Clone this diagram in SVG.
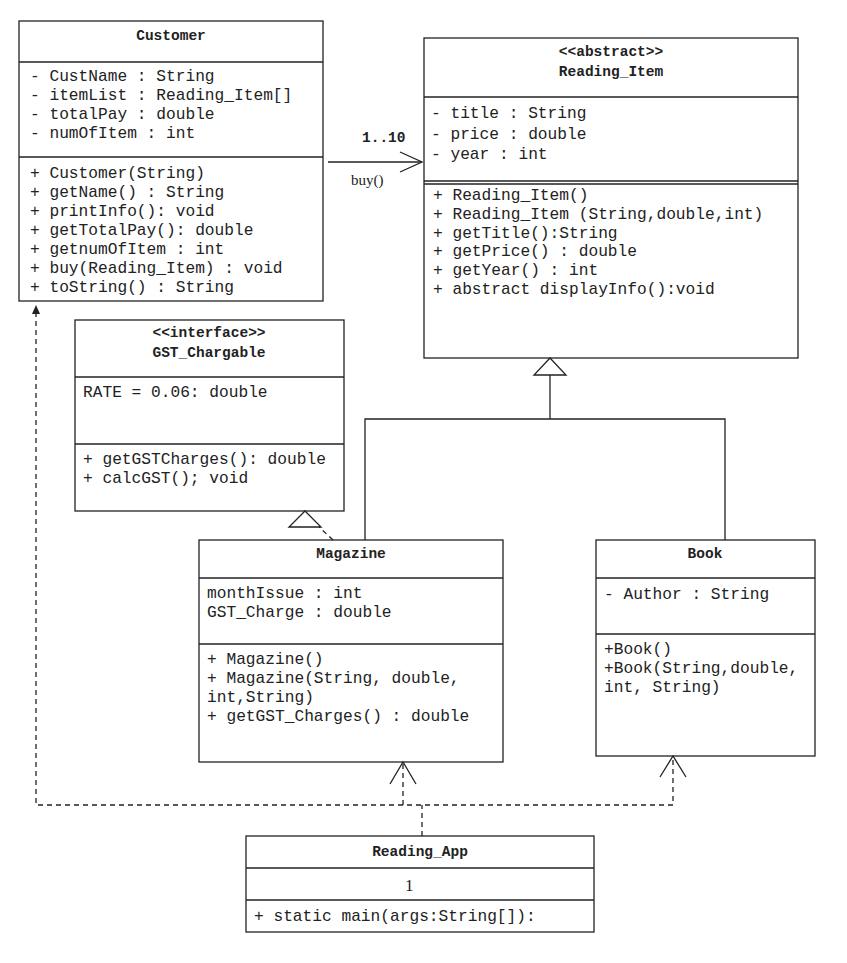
<svg xmlns="http://www.w3.org/2000/svg" width="847" height="963" viewBox="0 0 847 963">
<style>
.box{fill:#fff;stroke:#222;stroke-width:1.3}
.ln{stroke:#222;stroke-width:1.3;fill:none}
.d{stroke:#222;stroke-width:1.3;fill:none;stroke-dasharray:5,4}
text{font-family:"Liberation Mono",monospace;font-size:16.2px;fill:#222}
.b{font-weight:bold;text-anchor:middle;font-size:14.5px}
</style>
<g id="Customer">
<rect class="box" x="19" y="21" width="304" height="280"/>
<line class="ln" x1="19" y1="62" x2="323" y2="62"/>
<line class="ln" x1="19" y1="157" x2="323" y2="157"/>
<text class="b" x="171" y="40">Customer</text>
<text x="30" y="81">- CustName : String</text>
<text x="30" y="100">- itemList : Reading_Item[]</text>
<text x="30" y="119">- totalPay : double</text>
<text x="30" y="138">- numOfItem : int</text>
<text x="30" y="178">+ Customer(String)</text>
<text x="30" y="197">+ getName() : String</text>
<text x="30" y="216">+ printInfo(): void</text>
<text x="30" y="235">+ getTotalPay(): double</text>
<text x="30" y="254">+ getnumOfItem : int</text>
<text x="30" y="273">+ buy(Reading_Item) : void</text>
<text x="30" y="292">+ toString() : String</text>
</g>
<g id="Reading_Item">
<rect class="box" x="424" y="38" width="374" height="320"/>
<line class="ln" x1="424" y1="97" x2="798" y2="97"/>
<line class="ln" x1="424" y1="181" x2="798" y2="181"/>
<line class="ln" x1="424" y1="184" x2="798" y2="184"/>
<text class="b" x="611" y="56">&lt;&lt;abstract&gt;&gt;</text>
<text class="b" x="611" y="76">Reading_Item</text>
<text x="431" y="118">- title : String</text>
<text x="431" y="139">- price : double</text>
<text x="431" y="159">- year : int</text>
<text x="433" y="200">+ Reading_Item()</text>
<text x="433" y="219">+ Reading_Item (String,double,int)</text>
<text x="433" y="238">+ getTitle():String</text>
<text x="433" y="256">+ getPrice() : double</text>
<text x="433" y="275">+ getYear() : int</text>
<text x="433" y="294">+ abstract displayInfo():void</text>
</g>
<g id="GST_Chargable">
<rect class="box" x="75" y="320" width="269" height="191"/>
<line class="ln" x1="75" y1="377" x2="344" y2="377"/>
<line class="ln" x1="75" y1="444" x2="344" y2="444"/>
<text class="b" x="209" y="337">&lt;&lt;interface&gt;&gt;</text>
<text class="b" x="209" y="357">GST_Chargable</text>
<text x="83" y="397">RATE = 0.06: double</text>
<text x="83" y="464">+ getGSTCharges(): double</text>
<text x="83" y="483">+ calcGST(); void</text>
</g>
<g id="Magazine">
<rect class="box" x="199" y="540" width="304" height="222"/>
<line class="ln" x1="199" y1="578" x2="503" y2="578"/>
<line class="ln" x1="199" y1="644" x2="503" y2="644"/>
<text class="b" x="351" y="558">Magazine</text>
<text x="207" y="598">monthIssue : int</text>
<text x="207" y="617">GST_Charge : double</text>
<text x="207" y="664">+ Magazine()</text>
<text x="207" y="683">+ Magazine(String, double,</text>
<text x="207" y="702">int,String)</text>
<text x="207" y="721">+ getGST_Charges() : double</text>
</g>
<g id="Book">
<rect class="box" x="596" y="540" width="219" height="216"/>
<line class="ln" x1="596" y1="578" x2="815" y2="578"/>
<line class="ln" x1="596" y1="634" x2="815" y2="634"/>
<text class="b" x="705" y="558">Book</text>
<text x="604" y="599">- Author : String</text>
<text x="604" y="654">+Book()</text>
<text x="604" y="673">+Book(String,double,</text>
<text x="604" y="692">int, String)</text>
</g>
<g id="Reading_App">
<rect class="box" x="246" y="836" width="348" height="96"/>
<line class="ln" x1="246" y1="868" x2="594" y2="868"/>
<line class="ln" x1="246" y1="900" x2="594" y2="900"/>
<text class="b" x="420" y="856">Reading_App</text>
<text x="405" y="891" style="font-family:'Liberation Serif',serif;font-size:17px">1</text>
<text x="254" y="921">+ static main(args:String[]):</text>
</g>
<g id="connectors">
<line class="ln" x1="328" y1="162" x2="422" y2="162"/>
<polyline class="ln" points="400,152 422,162 400,172"/>
<text x="362" y="142" style="font-weight:bold;font-size:14.5px">1..10</text>
<text x="351" y="185" style="font-family:'Liberation Serif',serif;font-size:15px">buy()</text>
<polygon class="box" points="550,358 534,375 566,375"/>
<polyline class="ln" points="550,375 550,419"/>
<polyline class="ln" points="365,540 365,419 725,419 725,540"/>
<polygon class="box" points="305,511 289,527 321,527"/>
<line class="d" x1="333" y1="540" x2="319" y2="527"/>
<line class="d" x1="422" y1="836" x2="422" y2="805"/>
<polyline class="d" points="36,312 36,805 673,805 673,758"/>
<line class="d" x1="403" y1="805" x2="403" y2="764"/>
<polyline class="ln" points="390,784 403,762 416,784"/>
<polyline class="ln" points="660,777 673,756 686,777"/>
<polygon points="36,305 32,314 40,314" fill="#222"/>
</g>
</svg>
